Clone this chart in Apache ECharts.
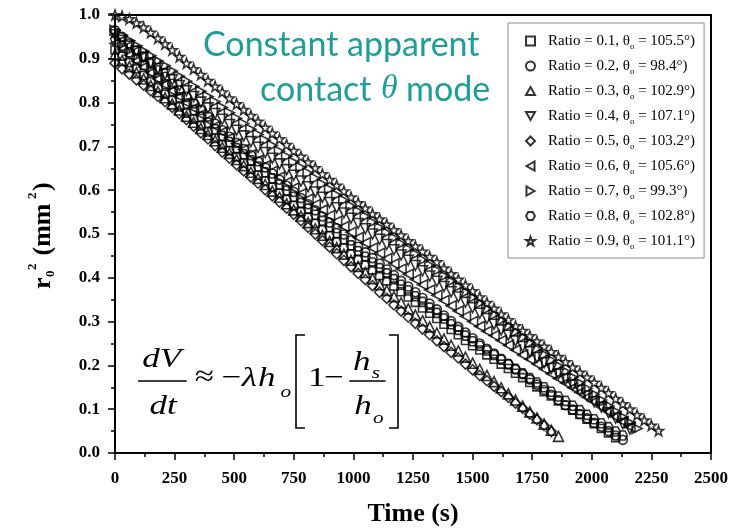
<!DOCTYPE html>
<html>
<head>
<meta charset="utf-8">
<script src="https://cdn.jsdelivr.net/npm/echarts@6/dist/echarts.min.js"></script>
<style>
  html, body { margin: 0; padding: 0; background: #fff; }
  #chart { width: 740px; height: 531px; }
</style>
</head>
<body>
<div id="chart"></div>
<script>
// time stamps (s), shared by all runs
const times = [0,30,60,90,120,150,180,210,240,270,300,330,360,390,420,450,480,510,540,570,
  600,630,660,690,720,750,780,810,840,870,900,930,960,990,1020,1050,1080,1110,1140,1170,
  1200,1230,1260,1290,1320,1350,1380,1410,1440,1470,1500,1530,1560,1590,1620,1650,1680,1710,1740,1770,
  1800,1830,1860,1890,1920,1950,1980,2010,2040,2070,2100,2130,2160,2190,2220,2250,2280];

// r0^2 (mm^2) for each ratio
const ratio01 = [0.920,0.906,0.891,0.877,0.862,0.848,0.834,0.819,0.805,0.790,
  0.776,0.762,0.747,0.733,0.718,0.704,0.690,0.676,0.662,0.648,
  0.634,0.621,0.607,0.593,0.579,0.565,0.551,0.538,0.524,0.510,
  0.496,0.482,0.468,0.455,0.442,0.430,0.418,0.405,0.393,0.381,
  0.368,0.356,0.344,0.331,0.319,0.307,0.294,0.282,0.270,0.257,
  0.245,0.235,0.224,0.214,0.203,0.193,0.182,0.172,0.161,0.151,
  0.140,0.130,0.119,0.109,0.098,0.088,0.077,0.067,0.056,0.046,
  0.035];
const ratio02 = [0.965,0.950,0.935,0.919,0.904,0.889,0.874,0.859,0.843,0.828,
  0.813,0.798,0.783,0.768,0.752,0.737,0.722,0.708,0.694,0.680,
  0.666,0.652,0.638,0.624,0.610,0.596,0.582,0.568,0.554,0.540,
  0.526,0.513,0.499,0.485,0.471,0.458,0.445,0.432,0.419,0.406,
  0.393,0.380,0.367,0.354,0.341,0.328,0.314,0.301,0.288,0.275,
  0.262,0.250,0.238,0.227,0.215,0.203,0.191,0.180,0.168,0.156,
  0.144,0.133,0.121,0.109,0.099,0.089,0.079,0.069,0.060,0.050,
  0.040,0.030];
const ratio03 = [0.910,0.896,0.882,0.868,0.854,0.839,0.825,0.811,0.797,0.783,
  0.769,0.755,0.741,0.727,0.713,0.698,0.684,0.670,0.656,0.641,
  0.627,0.613,0.598,0.584,0.569,0.555,0.541,0.526,0.512,0.497,
  0.483,0.469,0.454,0.440,0.426,0.412,0.398,0.384,0.371,0.357,
  0.343,0.329,0.315,0.302,0.288,0.274,0.260,0.246,0.233,0.219,
  0.205,0.191,0.177,0.163,0.149,0.135,0.121,0.107,0.094,0.080,
  0.066,0.052,0.038];
const ratio04 = [0.955,0.942,0.929,0.917,0.904,0.891,0.878,0.865,0.852,0.839,
  0.827,0.814,0.801,0.788,0.775,0.762,0.750,0.737,0.724,0.711,
  0.698,0.686,0.673,0.660,0.647,0.634,0.621,0.608,0.596,0.584,
  0.572,0.560,0.548,0.536,0.524,0.512,0.500,0.488,0.476,0.464,
  0.452,0.440,0.428,0.416,0.404,0.392,0.380,0.368,0.356,0.344,
  0.332,0.319,0.307,0.294,0.281,0.269,0.256,0.243,0.231,0.218,
  0.206,0.193,0.180,0.168,0.155,0.143,0.130,0.117,0.105,0.092,
  0.080,0.067,0.055];
const ratio05 = [0.890,0.877,0.865,0.852,0.840,0.827,0.814,0.802,0.789,0.775,
  0.761,0.746,0.731,0.717,0.702,0.687,0.673,0.658,0.644,0.630,
  0.616,0.601,0.587,0.573,0.559,0.545,0.530,0.515,0.500,0.485,
  0.470,0.455,0.440,0.425,0.410,0.396,0.382,0.367,0.353,0.338,
  0.324,0.310,0.296,0.283,0.270,0.256,0.243,0.230,0.217,0.203,
  0.190,0.177,0.165,0.152,0.140,0.127,0.114,0.102,0.089,0.076,
  0.063,0.049];
const ratio06 = [0.935,0.922,0.908,0.895,0.881,0.868,0.854,0.841,0.827,0.814,
  0.800,0.787,0.773,0.760,0.746,0.733,0.719,0.706,0.693,0.681,
  0.668,0.656,0.643,0.630,0.618,0.605,0.592,0.580,0.567,0.555,
  0.542,0.529,0.517,0.504,0.492,0.480,0.468,0.456,0.444,0.432,
  0.420,0.408,0.396,0.384,0.372,0.360,0.348,0.336,0.324,0.312,
  0.300,0.289,0.278,0.268,0.257,0.246,0.235,0.224,0.214,0.203,
  0.192,0.181,0.170,0.160,0.149,0.138,0.127,0.117,0.105,0.094,
  0.083,0.072,0.060];
const ratio07 = [0.965,0.953,0.942,0.930,0.918,0.907,0.895,0.884,0.872,0.860,
  0.849,0.837,0.826,0.814,0.802,0.789,0.777,0.764,0.752,0.739,
  0.727,0.714,0.702,0.689,0.677,0.664,0.652,0.639,0.627,0.614,
  0.602,0.589,0.577,0.564,0.552,0.540,0.527,0.515,0.503,0.491,
  0.478,0.466,0.454,0.441,0.429,0.417,0.404,0.392,0.380,0.367,
  0.355,0.342,0.329,0.316,0.303,0.290,0.277,0.264,0.251,0.238,
  0.225,0.212,0.199,0.186,0.173,0.160,0.147,0.134,0.121,0.108,
  0.095,0.082,0.069,0.056];
const ratio08 = [0.945,0.930,0.915,0.901,0.886,0.871,0.857,0.842,0.827,0.812,
  0.798,0.783,0.768,0.754,0.739,0.724,0.710,0.696,0.682,0.668,
  0.654,0.641,0.627,0.613,0.599,0.585,0.571,0.558,0.544,0.530,
  0.516,0.502,0.488,0.474,0.461,0.448,0.435,0.422,0.410,0.397,
  0.384,0.371,0.358,0.345,0.332,0.320,0.307,0.294,0.281,0.268,
  0.255,0.245,0.234,0.224,0.213,0.203,0.192,0.182,0.171,0.161,
  0.150,0.140,0.129,0.119,0.108,0.098,0.087,0.077,0.068,0.059,
  0.049,0.040];
const ratio09 = [1.000,0.997,0.991,0.982,0.972,0.960,0.947,0.934,0.920,0.905,
  0.890,0.877,0.864,0.850,0.837,0.824,0.810,0.797,0.784,0.770,
  0.757,0.743,0.730,0.717,0.704,0.690,0.677,0.664,0.651,0.637,
  0.624,0.611,0.598,0.584,0.571,0.559,0.546,0.534,0.522,0.509,
  0.497,0.484,0.472,0.460,0.448,0.436,0.422,0.409,0.396,0.383,
  0.370,0.356,0.343,0.330,0.317,0.304,0.290,0.279,0.267,0.255,
  0.243,0.231,0.220,0.208,0.196,0.184,0.173,0.161,0.149,0.137,
  0.124,0.112,0.100,0.087,0.075,0.063,0.051];

const ratios = ["0.1", "0.2", "0.3", "0.4", "0.5", "0.6", "0.7", "0.8", "0.9"];
const thetas = ["105.5", "98.4", "102.9", "107.1", "103.2", "105.6", "99.3", "102.8", "101.1"];
const values = [ratio01, ratio02, ratio03, ratio04, ratio05, ratio06, ratio07, ratio08, ratio09];

// marker shapes (paths so the legend shows the same orientation)
const TRI_UP = "path://M0,-5L5,4L-5,4Z";
const TRI_DOWN = "path://M-5,-4L5,-4L0,5Z";
const TRI_LEFT = "path://M-5,0L4,-5L4,5Z";
const TRI_RIGHT = "path://M5,0L-4,-5L-4,5Z";
const HEX = "path://M-5,0L-2.5,-4.33L2.5,-4.33L5,0L2.5,4.33L-2.5,4.33Z";
const STAR = "path://M0,-5L1.18,-1.62L4.76,-1.55L1.9,0.62L2.94,4.05L0,2L-2.94,4.05L-1.9,0.62L-4.76,-1.55L-1.18,-1.62Z";
const markers = [
  { symbol: "rect", size: 8 },
  { symbol: "circle", size: 9 },
  { symbol: TRI_UP, size: 10 },
  { symbol: TRI_DOWN, size: 10 },
  { symbol: "diamond", size: 10 },
  { symbol: TRI_LEFT, size: 10 },
  { symbol: TRI_RIGHT, size: 10 },
  { symbol: HEX, size: 9 },
  { symbol: STAR, size: 10 },
];

const serif = "Liberation Serif";
const teal = "#1f9d97";

const series = ratios.map((r, k) => ({
  type: "scatter",
  name: "Ratio = " + r + ", θ = " + thetas[k] + "°)",
  symbol: markers[k].symbol,
  symbolSize: markers[k].size,
  itemStyle: { color: "rgba(255,255,255,0)", borderColor: "#000", borderWidth: 1.6 },
  data: values[k].map((v, i) => [times[i], v]),
}));

const chart = echarts.init(document.getElementById("chart"));
const txt = (x, y, text, font, extra) => ({
  type: "text", x: x, y: y,
  style: Object.assign({ text: text, font: font, fill: "#000", align: "left", verticalAlign: "bottom" }, extra || {}),
});
const it = (s) => "italic " + s + "px '" + serif + "'";
const rm = (s) => s + "px '" + serif + "'";

chart.setOption({
  animation: false,
  backgroundColor: "#fff",
  grid: { left: 115, right: 29, top: 15, bottom: 78, show: true, borderColor: "#000", borderWidth: 2 },
  xAxis: {
    type: "value", min: 0, max: 2500, interval: 250,
    axisLine: { lineStyle: { color: "#000", width: 2 } },
    axisTick: { length: 7, lineStyle: { color: "#000", width: 1.5 } },
    minorTick: { show: true, splitNumber: 2, length: 4, lineStyle: { color: "#000", width: 1.5 } },
    splitLine: { show: false },
    axisLabel: { fontFamily: serif, fontWeight: "bold", fontSize: 17, color: "#000", margin: 17,
      formatter: (v) => String(v) },
  },
  yAxis: {
    type: "value", min: 0, max: 1, interval: 0.1,
    axisLine: { show: true, lineStyle: { color: "#000", width: 2 } },
    axisTick: { show: true, length: 7, lineStyle: { color: "#000", width: 1.5 } },
    minorTick: { show: true, splitNumber: 2, length: 4, lineStyle: { color: "#000", width: 1.5 } },
    splitLine: { show: false },
    axisLabel: { fontFamily: serif, fontWeight: "bold", fontSize: 17, color: "#000", margin: 15,
      formatter: (v) => v.toFixed(1) },
  },
  legend: {
    orient: "vertical", left: 508, top: 23,
    padding: [8, 9, 7, 17], itemWidth: 9, itemHeight: 9, itemGap: 5,
    borderColor: "#8c8c8c", borderWidth: 1, backgroundColor: "#fff",
    formatter: (name) => "{g|}" + name.replace("θ", "θ{o|o}"),
    textStyle: {
      fontFamily: serif, fontSize: 15, color: "#000", lineHeight: 14,
      rich: {
        g: { width: 8 },
        o: { fontFamily: serif, fontSize: 9, lineHeight: 9, padding: [11, 0, 0, 0] },
      },
    },
  },
  graphic: [
    // teal annotation
    txt(203, 62, "Constant apparent", "34px Lato", { fill: teal }),
    txt(260, 107, "contact", "34px Lato", { fill: teal }),
    txt(381, 106, "θ", it(34), { fill: teal }),
    txt(406, 107, "mode", "34px Lato", { fill: teal }),
    // y-axis title, rotated
    {
      type: "group", x: 51, y: 289, rotation: Math.PI / 2,
      children: [
        txt(0, 5, "r", "bold " + rm(26)),
        txt(12, 6, "0", "bold " + rm(13)),
        txt(19, -12, "2", "bold " + rm(13)),
        txt(27, 5, " (mm", "bold " + rm(26)),
        txt(90, -12, "2", "bold " + rm(13)),
        txt(98, 5, ")", "bold " + rm(26)),
      ],
    },
    // x-axis title
    txt(413, 527, "Time (s)", "bold " + rm(26), { align: "center" }),
    // formula, stretched horizontally
    {
      type: "group", scaleX: 1.25, originX: 138, originY: 0,
      children: [
        txt(157, 374, "dV", it(28), { align: "center" }),
        { type: "line", shape: { x1: 138, y1: 381, x2: 177, y2: 381 }, style: { stroke: "#000", lineWidth: 1.3 } },
        txt(158, 421, "dt", it(28), { align: "center" }),
        txt(191, 392, "≈", rm(28), { align: "center" }),
        txt(205, 393, "−", rm(28)),
        txt(221, 393, "λ", it(28)),
        txt(234, 393, "h", it(28)),
        txt(252, 401, "o", it(17)),
        txt(274, 393, "1", rm(28)),
        txt(287, 393, "−", rm(28)),
        txt(310, 377, "h", it(28)),
        txt(325, 382, "s", it(17)),
        { type: "line", shape: { x1: 307, y1: 381, x2: 336, y2: 381 }, style: { stroke: "#000", lineWidth: 1.3 } },
        txt(311, 421, "h", it(28)),
        txt(326, 427, "o", it(17)),
      ],
    },
    { type: "polyline", shape: { points: [[305, 335], [296, 335], [296, 428], [305, 428]] }, style: { stroke: "#000", lineWidth: 1.6, fill: null } },
    { type: "polyline", shape: { points: [[389, 335], [398, 335], [398, 428], [389, 428]] }, style: { stroke: "#000", lineWidth: 1.6, fill: null } },
  ],
  series: series,
});
</script>
</body>
</html>
